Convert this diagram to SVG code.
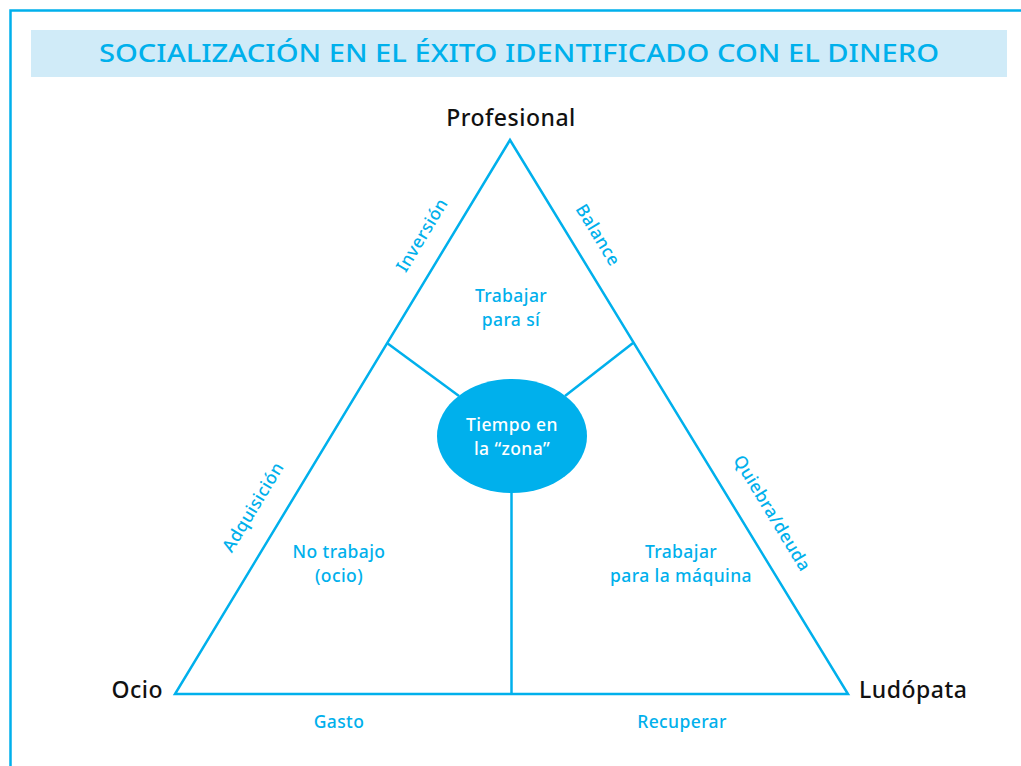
<svg xmlns="http://www.w3.org/2000/svg" width="1021" height="766" viewBox="0 0 1021 766">
<style>
.ln{stroke:#00b0ec;stroke-width:2.5;fill:none}
.lb{font-family:"Noto Sans","Liberation Sans",sans-serif;font-size:17.5px;fill:#00b0ec;text-anchor:middle;font-weight:500;letter-spacing:0.4px}
.vx{font-family:"Noto Sans","Liberation Sans",sans-serif;font-size:23px;fill:#111;font-weight:500;letter-spacing:0.5px}
</style>
<rect width="1021" height="766" fill="#fff"/>
<path d="M10.5 766 V10.5 H1021" stroke="#00b0ec" stroke-width="2.5" fill="none"/>
<g id="title">
<rect x="31" y="30" width="976" height="47" fill="#d0ebf8"/>
<text x="519" y="62" font-family="Noto Sans, Liberation Sans, sans-serif" font-size="26" font-weight="500" fill="#00b0ec" text-anchor="middle" textLength="840" lengthAdjust="spacingAndGlyphs">SOCIALIZACIÓN EN EL ÉXITO IDENTIFICADO CON EL DINERO</text>
</g>
<g id="connectors">
<polygon class="ln" points="510,140 175,694 848,694"/>
<line class="ln" x1="387" y1="343" x2="459" y2="396"/>
<line class="ln" x1="633" y1="343" x2="565" y2="396"/>
<line class="ln" x1="511.5" y1="480" x2="511.5" y2="694"/>
</g>
<g id="profesional"><text class="vx" x="511" y="126" text-anchor="middle">Profesional</text></g>
<g id="ocio"><text class="vx" x="163" y="698" text-anchor="end">Ocio</text></g>
<g id="ludopata"><text class="vx" x="859" y="698">Ludópata</text></g>
<g id="zona">
<ellipse cx="512" cy="436" rx="75" ry="57" fill="#00b0ec"/>
<text class="lb" x="512" y="431" style="fill:#fff">Tiempo en</text>
<text class="lb" x="512" y="455" style="fill:#fff">la “zona”</text>
</g>
<g id="trabajar-para-si">
<text class="lb" x="511" y="302">Trabajar</text>
<text class="lb" x="511" y="326">para sí</text>
</g>
<g id="no-trabajo">
<text class="lb" x="339" y="558">No trabajo</text>
<text class="lb" x="339" y="582">(ocio)</text>
</g>
<g id="trabajar-maquina">
<text class="lb" x="681" y="558">Trabajar</text>
<text class="lb" x="681" y="582">para la máquina</text>
</g>
<g id="edge-labels">
<text class="lb" transform="translate(422,235) rotate(-58.8)" y="6">Inversión</text>
<text class="lb" transform="translate(253,507) rotate(-58.8)" y="6">Adquisición</text>
<text class="lb" transform="translate(598,235) rotate(58.8)" y="6">Balance</text>
<text class="lb" transform="translate(772,513) rotate(58.8)" y="6">Quiebra/deuda</text>
<text class="lb" x="339" y="728">Gasto</text>
<text class="lb" x="682" y="728">Recuperar</text>
</g>
</svg>
